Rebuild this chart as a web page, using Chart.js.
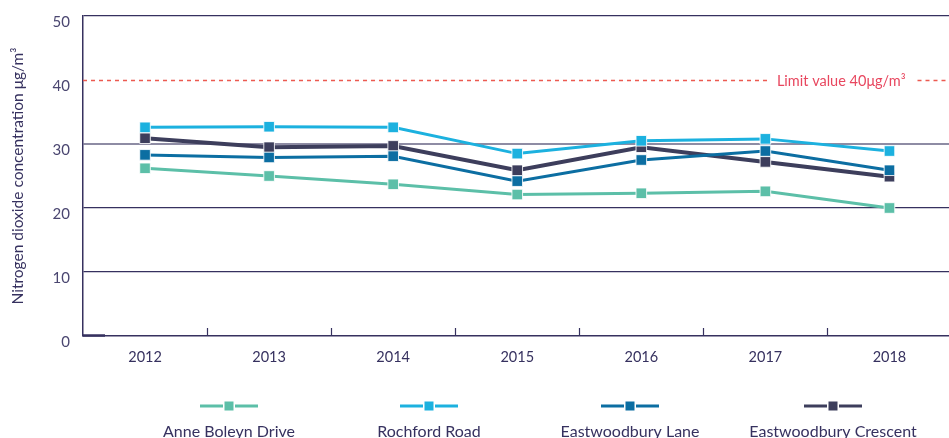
<!DOCTYPE html>
<html>
<head>
<meta charset="utf-8">
<script src="https://cdn.jsdelivr.net/npm/chart.js@4/dist/chart.umd.min.js"></script>
<style>
    html, body { margin: 0; padding: 0; background: #fff; overflow: hidden; }
    #wrap { width: 960px; height: 438px; position: relative; }
</style>
</head>
<body>
<div id="wrap"><canvas id="chart" width="960" height="438"></canvas></div>
<script>
const years = ['2012', '2013', '2014', '2015', '2016', '2017', '2018'];
const seriesNames = ['Anne Boleyn Drive', 'Rochford Road', 'Eastwoodbury Lane', 'Eastwoodbury Crescent'];
const seriesColors = ['#5cbfa8', '#1cb1df', '#0c6ea2', '#3d3e5c'];
const anneBoleyn = [26.2, 25.0, 23.7, 22.1, 22.3, 22.6, 20.0];
const rochford = [32.6, 32.7, 32.6, 28.5, 30.5, 30.8, 28.9];
const lane = [28.3, 27.9, 28.1, 24.2, 27.5, 28.9, 25.9];
const crescent = [30.9, 29.5, 29.7, 25.9, 29.5, 27.2, 24.9];
const seriesData = [anneBoleyn, rochford, lane, crescent];
const limitValue = 40;
const limitLabel = 'Limit value 40μg/m³';
const yTitle = 'Nitrogen dioxide concentration μg/m³';

const FONT = 'Lato, "Open Sans", sans-serif';
const NAVY = '#36315f';

// dashed limit line, axis title, little category ticks and the legend below the axis
const extras = {
    id: 'extras',
    afterDraw(c) {
        const ctx = c.ctx;
        const area = c.chartArea;
        const x = c.scales.x;
        const y = c.scales.y;

        ctx.save();
        // limit line
        const ly = Math.round(y.getPixelForValue(limitValue)) + 0.5;
        ctx.font = '14.5px ' + FONT;
        const tw = ctx.measureText(limitLabel).width;
        const tRight = area.right - 46;
        const tLeft = tRight - tw;
        ctx.strokeStyle = '#ec5a50';
        ctx.lineWidth = 1.5;
        ctx.setLineDash([4, 4]);
        ctx.beginPath();
        ctx.moveTo(area.left, ly); ctx.lineTo(tLeft - 9, ly);
        ctx.moveTo(tRight + 12, ly); ctx.lineTo(area.right, ly);
        ctx.stroke();
        ctx.setLineDash([]);
        ctx.fillStyle = '#e8475f';
        ctx.textBaseline = 'middle';
        ctx.textAlign = 'left';
        ctx.fillText(limitLabel, tLeft, ly + 1);

        // y axis title
        ctx.save();
        ctx.translate(18, (area.top + area.bottom) / 2);
        ctx.rotate(-Math.PI / 2);
        ctx.textAlign = 'center';
        ctx.fillStyle = NAVY;
        ctx.font = '15.5px ' + FONT;
        ctx.fillText(yTitle, 0, 0);
        ctx.restore();

        // ticks between categories, pointing up
        const step = x.getPixelForValue(1) - x.getPixelForValue(0);
        ctx.strokeStyle = NAVY;
        ctx.lineWidth = 1.2;
        ctx.beginPath();
        for (let i = 0; i < years.length; i++) {
            const px = Math.round(x.getPixelForValue(i) + step / 2) + 0.5;
            ctx.moveTo(px, area.bottom); ctx.lineTo(px, area.bottom - 8);
        }
        ctx.stroke();
        ctx.lineWidth = 2.5;
        ctx.beginPath();
        ctx.moveTo(area.left, area.bottom - 0.5); ctx.lineTo(area.left + 22, area.bottom - 0.5);
        ctx.stroke();

        // legend
        const centers = [229, 429, 630, 833];
        ctx.textAlign = 'center';
        ctx.textBaseline = 'alphabetic';
        ctx.font = '16px ' + FONT;
        seriesNames.forEach((name, i) => {
            const cx = centers[i];
            const sy = 406;
            ctx.strokeStyle = seriesColors[i];
            ctx.lineWidth = 3;
            ctx.beginPath();
            ctx.moveTo(cx - 29, sy); ctx.lineTo(cx + 29, sy);
            ctx.stroke();
            ctx.fillStyle = '#fff';
            ctx.fillRect(cx - 6, sy - 6, 12, 12);
            ctx.fillStyle = seriesColors[i];
            ctx.fillRect(cx - 4.5, sy - 4.5, 9, 9);
            ctx.fillStyle = NAVY;
            ctx.fillText(name, cx, 437);
        });
        ctx.restore();
    }
};

const gridColor = (v) => {
    if (v === 0 || v === 40) return 'rgba(0,0,0,0)';
    if (v === 30) return '#8e8ca4';
    return NAVY;
};

new Chart(document.getElementById('chart'), {
    type: 'line',
    data: {
        labels: years,
        datasets: seriesNames.map((name, i) => ({
            label: name,
            data: seriesData[i],
            borderColor: seriesColors[i],
            backgroundColor: seriesColors[i],
            borderWidth: i === 3 ? 4 : 3,
            pointStyle: 'rect',
            pointRadius: 7.5,
            pointBorderColor: 'rgba(255,255,255,0.85)',
            pointBorderWidth: 1,
            tension: 0
        }))
    },
    options: {
        responsive: false,
        animation: false,
        layout: { padding: { top: 16, left: 0, right: 2, bottom: 0 } },
        plugins: {
            legend: { display: false },
            tooltip: { enabled: false }
        },
        scales: {
            x: {
                offset: true,
                afterFit: (s) => {
                    s.height = 102;
                    s.paddingLeft = 0;
                    s.paddingRight = 0;
                },
                grid: { display: false, drawTicks: false },
                border: { display: true, color: NAVY, width: 1.5 },
                ticks: { color: NAVY, font: { family: FONT, size: 14.5 }, padding: 13 }
            },
            y: {
                min: 0,
                max: 50,
                afterFit: (s) => {
                    s.width = 83;
                    s.paddingTop = 0;
                    s.paddingBottom = 0;
                },
                ticks: {
                    stepSize: 10,
                    color: '#4a4670',
                    font: { family: FONT, size: 15 },
                    padding: 13,
                    labelOffset: 6
                },
                grid: {
                    drawTicks: false,
                    color: (ctx) => gridColor(ctx.tick.value),
                    lineWidth: (ctx) => (ctx.tick.value === 30 ? 2 : 1.3)
                },
                border: { display: true, color: NAVY, width: 1.5 }
            }
        }
    },
    plugins: [extras]
});
</script>
</body>
</html>
